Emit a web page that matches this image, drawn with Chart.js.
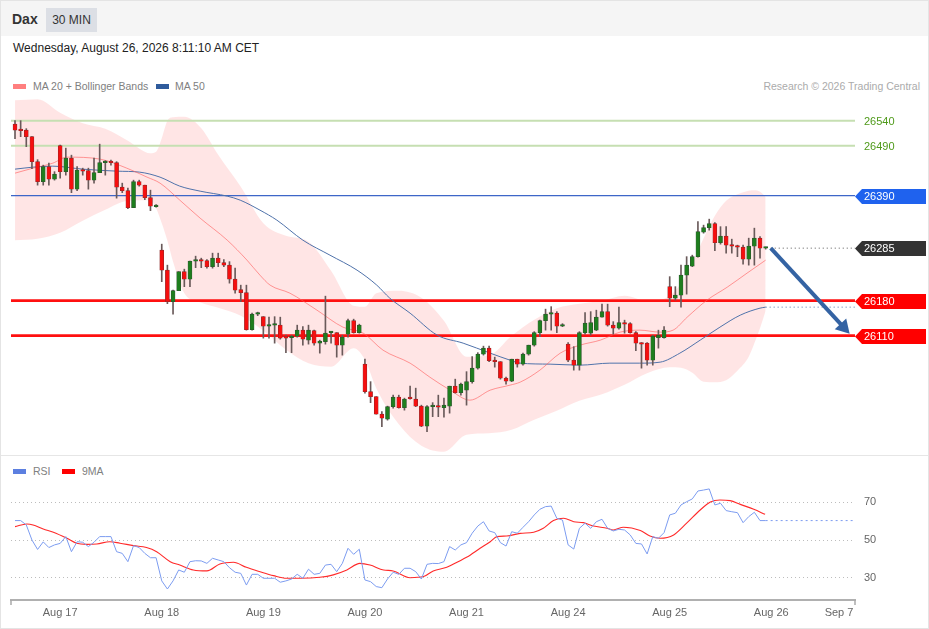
<!DOCTYPE html>
<html><head><meta charset="utf-8">
<script src="https://cdn.jsdelivr.net/npm/chart.js@4.4.1/dist/chart.umd.min.js"></script>
<style>
html,body{margin:0;padding:0;background:#fff;}
body{width:929px;height:629px;position:relative;overflow:hidden;font-family:"Liberation Sans",Arial,sans-serif;}
#frame{position:absolute;left:0;top:0;width:927px;height:627px;border:1px solid #e4e4e4;}
#hdr{position:absolute;left:1px;top:1px;width:927px;height:35px;background:#f5f5f5;}
#ttl{position:absolute;left:11px;top:10px;font-size:14px;font-weight:bold;color:#333;}
#badge{position:absolute;left:45px;top:7px;width:51px;height:24px;background:#dcdfe5;color:#333;font-size:12px;line-height:24px;text-align:center;}
#date{position:absolute;left:13px;top:41px;font-size:12px;color:#222;}
.lg{position:absolute;font-size:10.5px;color:#808080;line-height:12px;}
.sw{position:absolute;width:13px;height:5px;}
#src{position:absolute;right:9px;top:80px;font-size:10.5px;color:#ababab;}
#sep{position:absolute;left:1px;top:455px;width:927px;height:1px;background:#e6e6e6;}
canvas{position:absolute;left:0;}
</style></head>
<body>
<div id="frame"></div>
<div id="hdr"><span id="ttl">Dax</span><div id="badge">30 MIN</div></div>
<div id="date">Wednesday, August 26, 2026 8:11:10 AM CET</div>
<div class="sw" style="left:13px;top:84px;background:#ff7f7f"></div>
<div class="lg" style="left:33px;top:80px">MA 20 + Bollinger Bands</div>
<div class="sw" style="left:156px;top:84px;background:#2f5b9c"></div>
<div class="lg" style="left:175px;top:80px">MA 50</div>
<div id="src">Research © 2026 Trading Central</div>
<div id="sep"></div>
<div class="sw" style="left:13px;top:469px;background:#5c7fe0"></div>
<div class="lg" style="left:33px;top:465px">RSI</div>
<div class="sw" style="left:62px;top:469px;background:#ff0000"></div>
<div class="lg" style="left:82px;top:465px">9MA</div>
<canvas id="main" width="929" height="366" style="top:90px"></canvas>
<canvas id="rsi" width="929" height="173" style="top:456px"></canvas>
<script>
// ---------- DATA ----------
const opens  = [26533,26522,26521,26508,26458,26418,26448,26423,26490,26438,26465,26403,26441,26440,26421,26436,26456,26457,26456,26407,26400,26366,26418,26411,26386,26368,
26281,26241,26178,26200,26238,26223,26259,26262,26260,26248,26265,26256,26251,26223,26202,26196,26122,26153,26148,26129,26131,26131,26109,26106,26109,26121,26101,26120,26095,26098,26116,26116,26091,26113,26140,26116,
26053,25998,25988,25953,25943,25968,25987,25966,25985,25983,25969,25929,25968,25968,25966,25969,26009,25996,26001,26018,26045,26073,26085,26060,26058,26025,26019,26063,26053,26073,26091,26116,26140,26153,26155,26129,
26093,26061,26051,26116,26115,26121,26147,26158,26131,26125,26136,26134,26116,26095,26095,26061,26106,26106,
26208,26185,26191,26231,26249,26268,26317,26326,26334,26296,26309,26291,26289,26287,26263,26289,26305,26285];
const highs  = [26540,26540,26524,26508,26462,26451,26455,26438,26491,26485,26471,26448,26445,26445,26465,26493,26460,26461,26458,26415,26405,26421,26421,26411,26401,26372,
26293,26251,26201,26238,26243,26259,26269,26265,26262,26275,26275,26262,26258,26245,26211,26211,26155,26157,26148,26147,26148,26147,26111,26111,26131,26128,26131,26121,26101,26189,26118,26116,26111,26143,26143,26133,
26063,26018,25988,25958,25969,25991,25991,25985,26009,26005,25971,25970,25976,25991,25985,26009,26023,26015,26038,26068,26076,26089,26089,26067,26058,26027,26063,26063,26075,26091,26118,26141,26163,26168,26158,26134,
26096,26088,26118,26156,26158,26161,26173,26173,26138,26167,26141,26136,26118,26096,26096,26111,26121,26128,
26228,26208,26251,26268,26271,26338,26331,26343,26336,26328,26328,26303,26291,26291,26305,26325,26308,26287];
const lows   = [26504,26508,26488,26444,26411,26411,26411,26421,26425,26431,26396,26400,26431,26403,26415,26436,26431,26451,26385,26396,26364,26366,26409,26382,26360,26367,
26218,26174,26153,26200,26208,26208,26246,26246,26245,26245,26248,26248,26215,26195,26178,26121,26121,26150,26105,26105,26095,26103,26076,26076,26107,26091,26093,26091,26075,26093,26095,26067,26071,26107,26115,26115,
25995,25976,25953,25928,25941,25965,25965,25961,25983,25968,25928,25918,25948,25948,25947,25955,25995,25991,25971,26015,26043,26071,26058,26047,26023,26013,26018,26047,26051,26071,26089,26108,26121,26121,26116,26128,
26058,26041,26041,26113,26111,26120,26147,26129,26113,26123,26115,26115,26080,26045,26051,26051,26085,26105,
26168,26181,26167,26193,26248,26267,26315,26321,26280,26293,26275,26275,26268,26253,26251,26251,26265,26283];
const closes = [26521,26520,26508,26458,26418,26448,26423,26433,26438,26465,26403,26441,26439,26421,26436,26456,26458,26456,26407,26400,26366,26418,26411,26386,26369,26370,
26241,26178,26200,26238,26223,26259,26262,26259,26248,26265,26256,26251,26223,26201,26196,26122,26153,26155,26129,26131,26132,26105,26105,26107,26121,26103,26121,26095,26099,26115,26117,26091,26107,26140,26116,26131,
25998,25988,25953,25945,25968,25987,25966,25983,25984,25969,25929,25968,25969,25967,25971,26009,25996,26013,26018,26045,26073,26085,26060,26058,26025,26019,26063,26053,26073,26091,26116,26140,26153,26155,26129,26131,
26061,26051,26116,26135,26136,26147,26158,26131,26125,26136,26133,26116,26095,26093,26061,26109,26111,26121,
26185,26191,26231,26251,26268,26318,26326,26334,26296,26309,26291,26289,26287,26263,26289,26305,26285,26286];

const bandIdx   = [0,4,8,12,16,20,24,25,26,27,28,30,33,36,40,44,48,52,56,60,62,64,68,72,76,80,84,88,92,96,100,104,108,112,116,118,120,122,124,126,128,130,131,132,133];
const bandUpper = [26581,26583,26556,26535,26524,26500,26475,26478,26505,26540,26547,26548,26525,26472,26408,26335,26310,26298,26240,26170,26168,26195,26200,26186,26140,26068,26071,26110,26142,26165,26174,26180,26190,26180,26190,26215,26255,26305,26350,26380,26393,26400,26401,26398,26388];
const bandLower = [26301,26304,26316,26340,26362,26380,26381,26365,26335,26300,26258,26195,26176,26166,26150,26120,26082,26055,26048,26085,26062,26005,25933,25890,25878,25912,25915,25922,25942,25960,25980,25993,26012,26035,26047,26046,26036,26018,26017,26021,26040,26068,26095,26125,26160];

const ma20Idx = [0,3.2,6.7,9.2,15.1,19.8,23.4,25.7,29.2,32.8,37.6,41.1,43.4,45.2,48.7,53.5,58.1,61.7,65.2,70,73.5,77.1,80.6,84.2,87.7,89.5,93,96.6,100.1,103.7,107.2,110.7,114.3,116.6,119.1,122.6,126.2,129.7,133];
const ma20Val = [26435,26445,26455,26467,26463,26445,26427,26415,26381,26345,26301,26261,26231,26211,26195,26161,26127,26115,26081,26055,26027,26001,25981,26001,26011,26017,26041,26075,26091,26101,26117,26121,26117,26121,26147,26181,26207,26235,26261];

const ma50Idx = [0,3.2,6.7,12,18.1,22.1,25.7,29.2,32.8,37.6,39.9,43.4,46.4,51,55.8,60.6,64.1,66.4,70,74.8,79.4,84.2,87.7,89.5,94.8,100.1,105.4,110.7,114.3,117.8,121.4,124.9,128.5,132,133];
const ma50Val = [26443,26447,26449,26443,26439,26437,26427,26409,26399,26389,26381,26361,26341,26301,26271,26241,26211,26185,26155,26111,26095,26075,26061,26055,26053,26051,26055,26055,26057,26075,26101,26127,26151,26165,26167];

const rsiValues = [60.3,60.3,58,50,45,49,46,47.4,48.2,51.8,43.8,49.1,48.8,46.5,48.8,51.8,51.8,51.8,43.8,42.9,38.5,47,46,42.9,40.6,40.6,
28.3,24,28.3,34.1,32.9,38.5,39,38.9,37.6,40.3,39.4,38.5,35.3,32.9,32.3,26.1,31.8,31.8,29.7,29.7,29.7,27.6,28.3,29.3,31.8,29.7,34.5,31.8,32.3,36.7,37.1,33.2,37.6,45.6,42.4,45.1,
28.8,27.9,25.3,24.7,29.3,32.9,31.8,35,35,33.2,29.3,37.1,37.6,37.5,38.5,46.5,44.7,47.4,48.6,53.6,57.4,59.7,54.8,53.9,48.6,46.8,54.4,53.6,56.7,59.7,63.3,66.3,67.7,68,61.5,60.6,
47.4,45.2,56.2,58.9,56.2,59.7,61,56.2,54.8,55.7,55.3,52.7,48.2,47.9,42.6,51.8,50.9,53.9,
63.3,64.2,68.6,70.3,71.8,76,76.5,77.1,68.6,69.5,65.6,65,64.5,59.2,62.4,64.7,60.3,60.3];

const ma9Idx = [0,2.1,3.2,5,6.8,9.2,10.9,12.7,14.5,16.8,18.6,21,23.3,25.1,27.5,29.2,31.6,34,36.3,38.7,41,43.4,45.8,48.1,50.5,54,56.4,58.8,61.1,62.9,65.3,67,70,72.4,74.1,76.5,78.5,80,82.4,84.2,85.4,87.1,89.5,91.9,93.6,95.4,97.2,99,100.7,102.5,104.9,106,107.8,110.8,112.5,114.3,116.7,119,121.4,123.2,124.9,126.7,128.5,130.9,132.9];
const ma9Val = [57.1,58.5,58,55.8,54.1,50.9,48.3,47.7,47.9,49.1,48.3,47,46,43.8,38.5,36.7,34.1,33.6,37.3,38.2,35.5,33.2,31.1,29.7,29.7,30.2,31.5,34.1,37.6,36.7,34.1,33.6,30,30.6,33.6,35.5,38.5,40.8,45.6,49.1,51.8,52.1,53.5,54.1,56.2,60.3,61.5,59.7,59.2,57.4,56.2,55.3,56.8,55,52.1,50.9,52.7,58.9,65.9,70.2,71.2,70.9,68.9,66.3,63.6];

const levelValues = [26540, 26490, 26390, 26180, 26110];
const lastClose = 26285;
const ma50Last = 26167;
const rsiLast = 60.3;
const arrowIdx = [133.9, 146.8];
const arrowVal = [26285, 26127];
const xTickPos = [8, 26, 44, 62, 80, 98, 116, 134, 146];
const xTickLabels = ['Aug 17','Aug 18','Aug 19','Aug 20','Aug 21','Aug 24','Aug 25','Aug 26','Sep 7'];
const rsiTicks = [30, 50, 70];

// ---------- CONFIG ----------
const FONT = '"Liberation Sans", Arial, sans-serif';
Chart.defaults.font.family = FONT;
const xMin = -0.71, xMax = 148.83;
const yMin = 25869.3, yMax = 26601.3;
const rsiMin = 18.17, rsiMax = 81.83;

const pts = (xs, ys) => xs.map((x, i) => ({x, y: ys[i]}));
const idx = opens.map((_, i) => i);
const up = i => closes[i] >= opens[i];

const levelStyles = [
  {color:'#c6dfb2', width:2, text:'#4f9a1a', bg:null},
  {color:'#c6dfb2', width:2, text:'#4f9a1a', bg:null},
  {color:'#3d66c8', width:1.2, text:'#fff', bg:'#1f62ee'},
  {color:'#ff1010', width:2.6, text:'#fff', bg:'#ff0000'},
  {color:'#ff1010', width:2.6, text:'#fff', bg:'#ff0000'}
];

const datasets = [];
datasets.push({type:'bar', order:0, grouped:false, barThickness:4, minBarLength:1.5,
  data: idx.map(i => ({x:i, y:[opens[i], closes[i]]})),
  backgroundColor: idx.map(i => up(i) ? '#1e7e1e' : '#f50f0f'),
  borderColor: idx.map(i => up(i) ? '#2f4f2f' : '#8a2a2a'), borderWidth:0.6, borderSkipped:false});
datasets.push({type:'bar', order:1, grouped:false, barThickness:1,
  data: idx.map(i => ({x:i, y:[lows[i], highs[i]]})),
  backgroundColor:'#6a5a5a', borderWidth:0});
levelValues.forEach((v, k) => datasets.push({type:'line', order:3, data:[{x:xMin,y:v},{x:xMax,y:v}],
  borderColor:levelStyles[k].color, borderWidth:levelStyles[k].width, pointRadius:0}));
datasets.push({type:'line', order:3, data:[{x:arrowIdx[0],y:lastClose},{x:xMax,y:lastClose}],
  borderColor:'#555', borderWidth:1, borderDash:[1,3], pointRadius:0});
datasets.push({type:'line', order:2, data:pts(ma20Idx, ma20Val), borderColor:'rgba(255,90,90,0.6)', borderWidth:1, pointRadius:0, cubicInterpolationMode:'monotone'});
datasets.push({type:'line', order:2, data:pts(ma50Idx, ma50Val), borderColor:'#4f72aa', borderWidth:1, pointRadius:0, cubicInterpolationMode:'monotone'});
datasets.push({type:'line', order:2, data:[{x:133,y:ma50Last},{x:xMax,y:ma50Last}], borderColor:'#4f72aa', borderWidth:1, borderDash:[1,3], pointRadius:0});
datasets.push({type:'line', order:0, data:pts(arrowIdx, arrowVal), borderColor:'#3463a3', borderWidth:4,
  pointRadius:[0,9], pointStyle:'triangle', pointRotation:137.3, pointBackgroundColor:'#3463a3', pointBorderWidth:0});
datasets.push({type:'line', order:5, data:pts(bandIdx, bandUpper), borderWidth:0, borderColor:'rgba(0,0,0,0)', pointRadius:0,
  cubicInterpolationMode:'monotone', fill:'+1', backgroundColor:'rgba(255,0,0,0.1)'});
datasets.push({type:'line', order:5, data:pts(bandIdx, bandLower), borderWidth:0, borderColor:'rgba(0,0,0,0)', pointRadius:0,
  cubicInterpolationMode:'monotone', fill:false});

const tagPlugin = {
  id:'tags',
  afterDraw(chart) {
    const ctx = chart.ctx, ys = chart.scales.y, xr = chart.chartArea.right;
    const tags = levelValues.map((v,k) => ({v, bg:levelStyles[k].bg, fg:levelStyles[k].text}));
    tags.push({v:lastClose, bg:'#333333', fg:'#fff'});
    tags.forEach(t => {
      const py = Math.round(ys.getPixelForValue(t.v)) + 0.5;
      ctx.save();
      if (t.bg) {
        ctx.fillStyle = t.bg;
        ctx.beginPath();
        ctx.moveTo(xr, py);
        ctx.lineTo(xr + 7, py - 7.5);
        ctx.lineTo(xr + 71, py - 7.5);
        ctx.lineTo(xr + 71, py + 7.5);
        ctx.lineTo(xr + 7, py + 7.5);
        ctx.closePath();
        ctx.fill();
      }
      ctx.fillStyle = t.fg;
      ctx.font = '11px ' + FONT;
      ctx.textBaseline = 'middle';
      ctx.fillText(String(t.v), xr + 9, py);
      ctx.restore();
    });
  }
};

new Chart(document.getElementById('main'), {
  type:'bar',
  data:{datasets},
  options:{
    responsive:false, animation:false, events:[],
    layout:{autoPadding:false, padding:{left:11, right:74, top:0, bottom:0}},
    plugins:{legend:{display:false}, tooltip:{enabled:false}},
    scales:{
      x:{type:'linear', min:xMin, max:xMax, offset:false, display:false},
      y:{type:'linear', min:yMin, max:yMax, beginAtZero:false, display:false}
    }
  },
  plugins:[tagPlugin]
});

const endTicks = {
  id:'endTicks',
  afterDraw(chart) {
    const ctx = chart.ctx, a = chart.chartArea;
    ctx.save();
    ctx.strokeStyle = '#aaa'; ctx.lineWidth = 1.5;
    [a.left, a.right].forEach(x => { ctx.beginPath(); ctx.moveTo(x, a.bottom); ctx.lineTo(x, a.bottom + 5); ctx.stroke(); });
    ctx.restore();
  }
};

new Chart(document.getElementById('rsi'), {
  type:'line',
  data:{datasets:[
    {data:rsiValues.map((v,i)=>({x:i,y:v})), borderColor:'#7c9cf0', borderWidth:1, pointRadius:0, tension:0},
    {data:pts(ma9Idx, ma9Val), borderColor:'#ff2a2a', borderWidth:1.1, pointRadius:0, cubicInterpolationMode:'monotone'},
    {data:[{x:133,y:rsiLast},{x:xMax,y:rsiLast}], borderColor:'#7c9cf0', borderWidth:1, borderDash:[2,3], pointRadius:0}
  ]},
  options:{
    responsive:false, animation:false, events:[],
    layout:{autoPadding:false, padding:{left:11, right:0, top:24, bottom:0}},
    plugins:{legend:{display:false}, tooltip:{enabled:false}},
    scales:{
      x:{type:'linear', min:xMin, max:xMax,
        afterBuildTicks(s){ s.ticks = xTickPos.map(v => ({value:v})); },
        afterFit(s){ s.height = 29; },
        ticks:{callback:(v,i)=>xTickLabels[i], autoSkip:false, maxRotation:0, padding:6, color:'#666', font:{size:11}},
        grid:{display:false, drawTicks:false, tickLength:0}, border:{display:true, color:'#b0b0b0', width:2}},
      y:{position:'right', min:rsiMin, max:rsiMax,
        afterBuildTicks(s){ s.ticks = rsiTicks.map(v => ({value:v})); },
        afterFit(s){ s.width = 74; },
        ticks:{color:'#666', font:{size:11}, padding:9},
        grid:{color:'#bdbdbd', drawTicks:false, lineWidth:1},
        border:{display:false, dash:[1,3]}}
    }
  },
  plugins:[endTicks]
});
</script>
</body></html>
